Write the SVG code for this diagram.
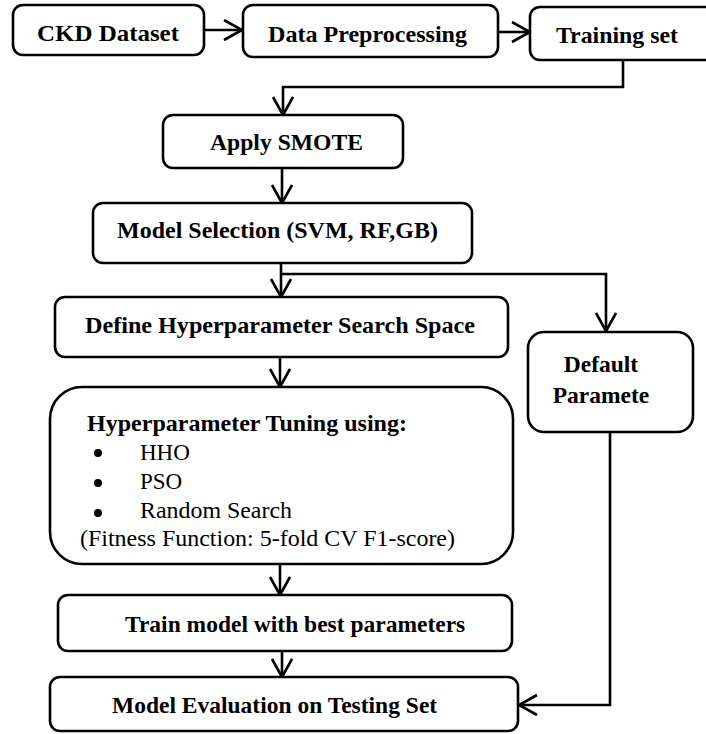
<svg xmlns="http://www.w3.org/2000/svg" width="706" height="734" viewBox="0 0 706 734">
<style>
.box{fill:#fff;stroke:#000;stroke-width:2.6}
.t{font-family:"Liberation Serif","Times New Roman",serif;font-weight:bold;font-size:23.5px;fill:#000}
.r{font-family:"Liberation Serif","Times New Roman",serif;font-size:23px;fill:#000}
.c{fill:none;stroke:#000;stroke-width:2.6}
</style>
<defs>
<marker id="ah" markerUnits="userSpaceOnUse" markerWidth="24" markerHeight="26" refX="19" refY="11" orient="auto" viewBox="0 0 24 26">
<path d="M1,1 L19,11 L1,21" fill="none" stroke="#000" stroke-width="2.6"/>
</marker>
</defs>
<rect width="706" height="734" fill="#fff"/>
<g id="connectors">
<path class="c" d="M204,30 H242" marker-end="url(#ah)"/>
<path class="c" d="M498,32 H530" marker-end="url(#ah)"/>
<path class="c" d="M623,60 V87 H283 V115" marker-end="url(#ah)"/>
<path class="c" d="M282,168 V203" marker-end="url(#ah)"/>
<path class="c" d="M281,263 V297" marker-end="url(#ah)"/>
<path class="c" d="M281,274 H606 V331" marker-end="url(#ah)"/>
<path class="c" d="M280,357 V387" marker-end="url(#ah)"/>
<path class="c" d="M280,564 V595" marker-end="url(#ah)"/>
<path class="c" d="M282,651 V677" marker-end="url(#ah)"/>
<path class="c" d="M610,432 V705 H519" marker-end="url(#ah)"/>
</g>
<g id="ckd">
<rect class="box" x="13" y="5" width="191" height="50" rx="10"/>
<text class="t" x="37" y="41" textLength="142" lengthAdjust="spacingAndGlyphs">CKD  Dataset</text>
</g>
<g id="preprocessing">
<rect class="box" x="243" y="5" width="255" height="52" rx="10"/>
<text class="t" x="268" y="42" textLength="199" lengthAdjust="spacingAndGlyphs">Data Preprocessing</text>
</g>
<g id="training">
<rect class="box" x="530" y="7" width="200" height="53" rx="10"/>
<text class="t" x="556" y="43" textLength="122" lengthAdjust="spacingAndGlyphs">Training set</text>
</g>
<g id="smote">
<rect class="box" x="163" y="115" width="240" height="53" rx="10"/>
<text class="t" x="210" y="150" textLength="153" lengthAdjust="spacingAndGlyphs">Apply SMOTE</text>
</g>
<g id="model-selection">
<rect class="box" x="93" y="203" width="379" height="60" rx="10"/>
<text class="t" x="117" y="238" textLength="321" lengthAdjust="spacingAndGlyphs">Model Selection (SVM, RF,GB)</text>
</g>
<g id="define-space">
<rect class="box" x="55" y="297" width="453" height="60" rx="10"/>
<text class="t" x="85" y="333" textLength="390" lengthAdjust="spacingAndGlyphs">Define Hyperparameter Search Space</text>
</g>
<g id="default">
<rect class="box" x="528" y="332" width="165" height="100" rx="16"/>
<text class="t" x="601" y="372" text-anchor="middle">Default</text>
<text class="t" x="601" y="403" text-anchor="middle">Paramete</text>
</g>
<g id="tuning">
<rect class="box" x="50" y="387" width="463" height="177" rx="32"/>
<text class="t" x="87" y="431" textLength="320" lengthAdjust="spacingAndGlyphs">Hyperparameter Tuning using:</text>
<circle cx="98" cy="453" r="4"/>
<circle cx="98" cy="483" r="4"/>
<circle cx="98" cy="513" r="4"/>
<text class="r" x="140" y="460">HHO</text>
<text class="r" x="140" y="489">PSO</text>
<text class="r" x="140" y="518" textLength="152" lengthAdjust="spacingAndGlyphs">Random Search</text>
<text class="r" x="80" y="546" textLength="375" lengthAdjust="spacingAndGlyphs">(Fitness Function: 5-fold CV F1-score)</text>
</g>
<g id="train-model">
<rect class="box" x="58" y="595" width="454" height="56" rx="10"/>
<text class="t" x="125" y="632">Train model with best parameters</text>
</g>
<g id="evaluation">
<rect class="box" x="50" y="677" width="468" height="54" rx="10"/>
<text class="t" x="112" y="713">Model Evaluation on Testing Set</text>
</g>
</svg>
